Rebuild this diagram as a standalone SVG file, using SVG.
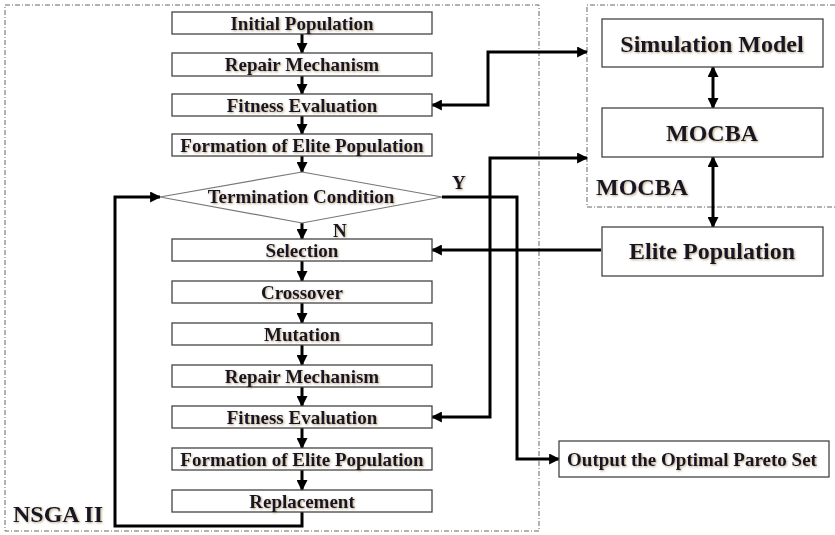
<svg xmlns="http://www.w3.org/2000/svg" width="835" height="535" viewBox="0 0 835 535">
<style>
.frame{fill:none;stroke:#666;stroke-width:1;stroke-dasharray:5 2 1 2}
.box{fill:#fff;stroke:#444;stroke-width:1.3}
.dia{fill:#fff;stroke:#777;stroke-width:1.2}
.t{font-family:"Liberation Serif","Times New Roman",serif;font-weight:bold;fill:#141428;text-anchor:middle;filter:url(#sh)}
.s19{font-size:19px}
.s24{font-size:24px}
.lab{font-family:"Liberation Serif","Times New Roman",serif;font-weight:bold;fill:#141428;filter:url(#sh)}
.c{fill:none;stroke:#000;stroke-width:3}
.a{marker-end:url(#ah)}
.aa{marker-start:url(#ah);marker-end:url(#ah)}
</style>
<defs>
<marker id="ah" viewBox="0 0 10 10" refX="9" refY="5" markerWidth="11" markerHeight="11" markerUnits="userSpaceOnUse" orient="auto-start-reverse"><path d="M0,0 L10,5 L0,10 z" fill="#000"/></marker>
<filter id="sh" x="-5%" y="-20%" width="110%" height="150%"><feDropShadow dx="1" dy="1" stdDeviation="0.8" flood-color="#8a6a30" flood-opacity="0.6"/></filter>
</defs>
<g id="frames">
<rect class="frame" x="5" y="5" width="534" height="526"/>
<path class="frame" d="M835,5 H587 V207 H835"/>
<text class="lab" x="596" y="195" font-size="24">MOCBA</text>
<text class="lab" x="13" y="522" font-size="24">NSGA II</text>
</g>
<g id="connectors">
<path class="c a" d="M302,34 V53"/>
<path class="c a" d="M302,76 V94"/>
<path class="c a" d="M302,116 V134"/>
<path class="c a" d="M302,156 V172"/>
<path class="c a" d="M302,223 V239"/>
<path class="c a" d="M302,261 V281"/>
<path class="c a" d="M302,303 V323"/>
<path class="c a" d="M302,345 V365"/>
<path class="c a" d="M302,387 V406"/>
<path class="c a" d="M302,428 V448"/>
<path class="c a" d="M302,470 V490"/>
<path class="c a" d="M302,512 V526 H115 V197 H160"/>
<path class="c a" d="M442,197 H517 V459 H559"/>
<path class="c aa" d="M432,105 H488 V52 H587"/>
<path class="c aa" d="M432,417 H490 V158 H587"/>
<path class="c a" d="M601,250 H432"/>
<path class="c aa" d="M713,67 V108"/>
<path class="c aa" d="M713,157 V227"/>
<text class="lab" x="452" y="189" font-size="19">Y</text>
<text class="lab" x="333" y="237" font-size="19">N</text>
</g>
<g id="initial"><rect class="box" x="172" y="12" width="260" height="22"/><text class="t s19" x="302" y="29.5">Initial Population</text></g>
<g id="repair1"><rect class="box" x="172" y="53" width="260" height="23"/><text class="t s19" x="302" y="71">Repair Mechanism</text></g>
<g id="fitness1"><rect class="box" x="172" y="94" width="260" height="22"/><text class="t s19" x="302" y="111.5">Fitness Evaluation</text></g>
<g id="elite1"><rect class="box" x="172" y="134" width="260" height="22"/><text class="t s19" x="302" y="151.5">Formation of Elite Population</text></g>
<g id="termination"><polygon class="dia" points="302,172 442,197 302,223 160,197"/><text class="t s19" x="301" y="203">Termination Condition</text></g>
<g id="selection"><rect class="box" x="172" y="239" width="260" height="22"/><text class="t s19" x="302" y="256.5">Selection</text></g>
<g id="crossover"><rect class="box" x="172" y="281" width="260" height="22"/><text class="t s19" x="302" y="298.5">Crossover</text></g>
<g id="mutation"><rect class="box" x="172" y="323" width="260" height="22"/><text class="t s19" x="302" y="340.5">Mutation</text></g>
<g id="repair2"><rect class="box" x="172" y="365" width="260" height="22"/><text class="t s19" x="302" y="382.5">Repair Mechanism</text></g>
<g id="fitness2"><rect class="box" x="172" y="406" width="260" height="22"/><text class="t s19" x="302" y="423.5">Fitness Evaluation</text></g>
<g id="elite2"><rect class="box" x="172" y="448" width="260" height="22"/><text class="t s19" x="302" y="465.5">Formation of Elite Population</text></g>
<g id="replacement"><rect class="box" x="172" y="490" width="260" height="22"/><text class="t s19" x="302" y="507.5">Replacement</text></g>
<g id="simulation"><rect class="box" x="602" y="19" width="221" height="48"/><text class="t s24" x="712" y="51.5">Simulation Model</text></g>
<g id="mocba"><rect class="box" x="602" y="108" width="221" height="49"/><text class="t s24" x="712" y="141">MOCBA</text></g>
<g id="elitepop"><rect class="box" x="602" y="227" width="221" height="49"/><text class="t s24" x="712" y="259">Elite Population</text></g>
<g id="output"><rect class="box" x="559" y="441" width="270" height="36"/><text class="t s19" x="692" y="466">Output the Optimal Pareto Set</text></g>
</svg>
